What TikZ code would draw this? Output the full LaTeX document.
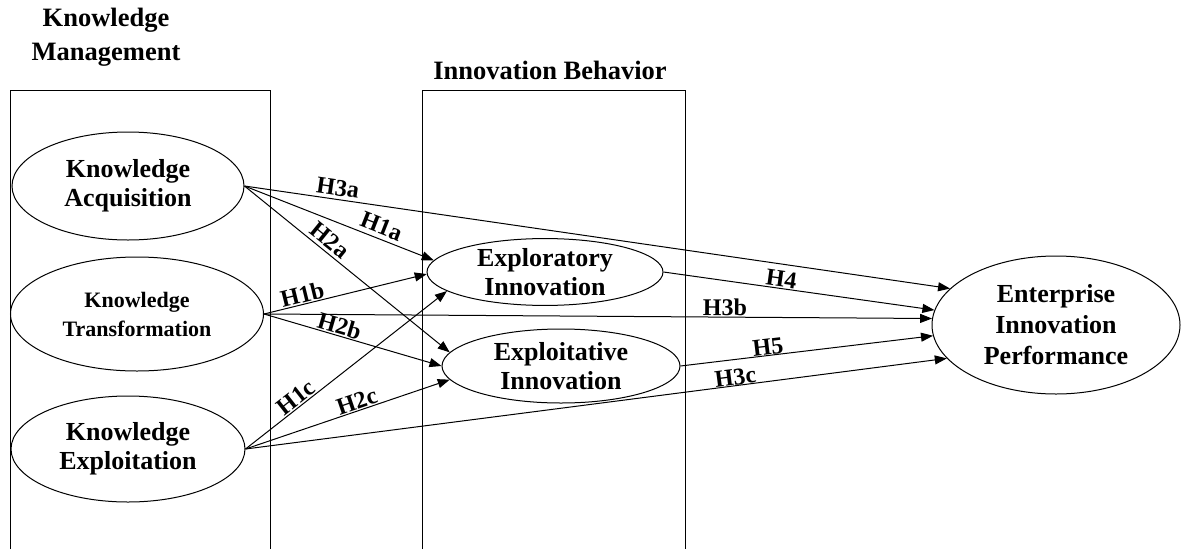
\documentclass[tikz,border=0pt]{standalone}
\usepackage{fontspec}
\setmainfont{Liberation Serif}
\usetikzlibrary{arrows.meta, shapes.geometric}

\begin{document}
\begin{tikzpicture}[x=1pt, y=-1pt, line width=1pt,
	latent/.style={ellipse, draw, inner sep=0pt, align=center, font=\fontsize{26}{29}\selectfont\bfseries},
	link/.style={-{Triangle[length=12pt, width=9pt]}},
	hyp/.style={sloped, above, inner sep=1pt, font=\fontsize{24}{24}\selectfont\bfseries},
	heading/.style={align=center, font=\fontsize{26.5}{34}\selectfont\bfseries}]

	\useasboundingbox (0,0) rectangle (1181,549);

	% the two groups, open at the bottom
	\draw (10,549) -- (10,90) -- (270,90) -- (270,549);
	\draw (422,549) -- (422,90) -- (685,90) -- (685,549);
	\node[heading] (km) at (106,37) {Knowledge\\Management};
	\node[heading] (ib) at (550,70) {Innovation Behavior};

	\node[latent, minimum width=232pt, minimum height=108pt] (ka) at (128,186) {Knowledge\\Acquisition};
	\node[latent, minimum width=253pt, minimum height=114pt, font=\fontsize{22}{29}\selectfont\bfseries] (kt) at (137,314) {Knowledge\\Transformation};
	\node[latent, minimum width=234pt, minimum height=106pt] (ke) at (128,449) {Knowledge\\Exploitation};

	\node[latent, minimum width=236pt, minimum height=64pt] (explor) at (545,272) {Exploratory\\Innovation};
	\node[latent, minimum width=238pt, minimum height=74pt] (exploit) at (561,366) {Exploitative\\Innovation};

	\node[latent, minimum width=248pt, minimum height=138pt, font=\fontsize{26}{31}\selectfont\bfseries] (eip) at (1056,325) {Enterprise\\Innovation\\Performance};

	% knowledge management -> innovation behavior
	\draw[link] (ka.east) -- (explor.174) node[hyp, pos=0.7, inner sep=4pt] {H1a};
	\draw[link] (kt.east) -- (explor.181) node[hyp, pos=0.25] {H1b};
	\draw[link] (ke.east) -- (explor.191) node[hyp, pos=0.28] {H1c};
	\draw[link] (ka.east) -- (exploit.173) node[hyp, pos=0.38, inner sep=3pt] {H2a};
	\draw[link] (kt.east) -- (exploit.180) node[hyp, pos=0.41] {H2b};
	\draw[link] (ke.east) -- (exploit.187) node[hyp, pos=0.56] {H2c};

	% direct paths
	\draw[link] (ka.east) -- (eip.161) node[hyp, pos=0.13, inner sep=3pt] {H3a};
	\draw[link] (kt.east) -- (eip.177) node[hyp, pos=0.69] {H3b};
	\draw[link] (ke.east) -- (eip.197) node[hyp, pos=0.70, inner sep=0pt] {H3c};

	\draw[link] (explor.east) -- (eip.173) node[hyp, pos=0.43] {H4};
	\draw[link] (exploit.east) -- (eip.185) node[hyp, pos=0.35, inner sep=0pt] {H5};

\end{tikzpicture}
\end{document}
